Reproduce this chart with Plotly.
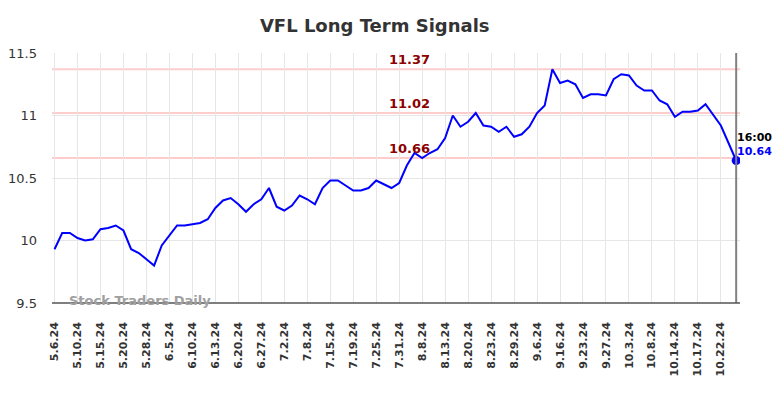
import plotly.graph_objects as go

tick_labels = ["5.6.24", "5.10.24", "5.15.24", "5.20.24", "5.28.24", "6.5.24", "6.10.24",
               "6.13.24", "6.20.24", "6.27.24", "7.2.24", "7.8.24", "7.15.24", "7.19.24",
               "7.25.24", "7.31.24", "8.8.24", "8.13.24", "8.20.24", "8.23.24", "8.29.24",
               "9.6.24", "9.16.24", "9.23.24", "9.27.24", "10.3.24", "10.8.24", "10.14.24",
               "10.17.24", "10.22.24"]

prices = [9.93, 10.06, 10.06, 10.02, 10.00, 10.01, 10.09, 10.10, 10.12, 10.08,
          9.93, 9.90, 9.85, 9.80, 9.96, 10.04, 10.12, 10.12, 10.13, 10.14,
          10.17, 10.26, 10.32, 10.34, 10.29, 10.23, 10.29, 10.33, 10.42, 10.27,
          10.24, 10.28, 10.36, 10.33, 10.29, 10.42, 10.48, 10.48, 10.44, 10.40,
          10.40, 10.42, 10.48, 10.45, 10.42, 10.46,
          10.60, 10.70, 10.66, 10.70, 10.73, 10.82, 11.00, 10.91, 10.95, 11.02,
          10.92, 10.91, 10.87, 10.91, 10.83, 10.85, 10.91, 11.02, 11.08, 11.37,
          11.26, 11.28, 11.25, 11.14, 11.17, 11.17, 11.16, 11.29, 11.33, 11.32,
          11.24, 11.20, 11.20, 11.12, 11.09, 10.99, 11.03, 11.03, 11.04, 11.09,
          11.00, 10.92, 10.78, 10.64]

signal_levels = [11.37, 11.02, 10.66]
last_time = "16:00"
y_ticks = [9.5, 10, 10.5, 11, 11.5]
y_tick_text = ["9.5", "10", "10.5", "11", "11.5"]

n = len(prices)
xs = list(range(n))
tick_step = 3
tick_vals = [i * tick_step for i in range(len(tick_labels))]

fig = go.Figure()
fig.add_trace(go.Scatter(x=xs, y=prices, mode="lines",
                         line=dict(color="#0000ff", width=2), hoverinfo="skip"))
fig.add_trace(go.Scatter(x=[xs[-1]], y=[prices[-1]], mode="markers",
                         marker=dict(color="#0000ff", size=9), hoverinfo="skip"))

shapes = []
for lv in signal_levels:
    shapes.append(dict(type="line", xref="paper", x0=0, x1=1, yref="y", y0=lv, y1=lv,
                       line=dict(color="#ffcccc", width=2), layer="below"))
shapes.append(dict(type="line", xref="x", x0=xs[-1], x1=xs[-1], yref="paper", y0=0, y1=1,
                   line=dict(color="#808080", width=2)))
shapes.append(dict(type="line", xref="paper", x0=0, x1=1, yref="paper", y0=0, y1=0,
                   line=dict(color="#555555", width=1.5)))

annotations = []
for lv in signal_levels:
    annotations.append(dict(x=0.4865, xref="paper", y=lv, yref="y", text=f"{lv:.2f}",
                            showarrow=False, xanchor="left", yanchor="bottom", yshift=0,
                            font=dict(family="DejaVu Sans", size=13, color="#8b0000",
                                      weight="bold")))
annotations.append(dict(x=xs[-1], xref="x", y=prices[-1], yref="y", text=last_time,
                        showarrow=False, xanchor="left", yanchor="middle", yshift=23, xshift=-1,
                        font=dict(family="DejaVu Sans", size=11, color="#000000", weight="bold")))
annotations.append(dict(x=xs[-1], xref="x", y=prices[-1], yref="y", text=f"{prices[-1]:.2f}",
                        showarrow=False, xanchor="left", yanchor="middle", yshift=9, xshift=-1,
                        font=dict(family="DejaVu Sans", size=11, color="#0000ff", weight="bold")))
annotations.append(dict(x=0.022, xref="paper", y=0, yref="paper", text="Stock Traders Daily",
                        showarrow=False, xanchor="left", yanchor="middle", yshift=3,
                        font=dict(family="DejaVu Sans", size=13, color="#a0a0a0", weight="bold")))

fig.update_layout(
    width=784, height=398,
    margin=dict(l=52, r=44, t=53, b=95, autoexpand=False),
    paper_bgcolor="white", plot_bgcolor="white",
    showlegend=False,
    title=dict(text="VFL Long Term Signals", x=0.478, xref="container", xanchor="center",
               y=0.935, yref="container", yanchor="middle",
               font=dict(family="DejaVu Sans", size=18, color="#333333", weight="bold")),
    shapes=shapes, annotations=annotations,
    xaxis=dict(range=[-0.33, 89.5], tickmode="array", tickvals=tick_vals, ticktext=tick_labels,
               tickangle=-90, showgrid=True, gridcolor="#e6e6e6", gridwidth=1,
               zeroline=False, showline=False, ticks="", ticklabelstandoff=16, automargin=False,
               tickfont=dict(family="DejaVu Sans", size=11, color="#333333", weight="bold")),
    yaxis=dict(range=[9.5, 11.5], tickmode="array", tickvals=y_ticks, ticktext=y_tick_text,
               showgrid=True, gridcolor="#e6e6e6", gridwidth=1, zeroline=False,
               showline=False, ticks="", ticklabelstandoff=14, automargin=False,
               tickfont=dict(family="DejaVu Sans", size=13, color="#333333")),
)

fig.write_html("out.html", config={"displayModeBar": False},
               post_script="document.body.style.margin='0';")
